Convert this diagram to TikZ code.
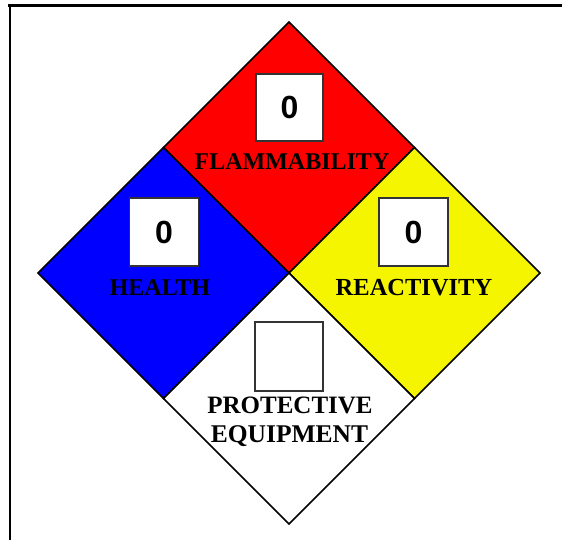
\documentclass[tikz,border=0pt]{standalone}
\usepackage{fontspec}
\setmainfont{Liberation Serif}
\newfontfamily\numfont{Liberation Sans}
\begin{document}
\begin{tikzpicture}[x=1pt,y=-1pt,
  quad/.style={draw=black,line width=1.6pt,line join=miter},
  numbox/.style={draw=black!80,line width=1.4pt,fill=white,minimum width=67pt,minimum height=67pt,inner sep=0pt,
    font=\numfont\fontsize{32}{32}\selectfont\bfseries},
  lbl/.style={font=\fontsize{24}{24}\selectfont\bfseries,inner sep=0pt,text=black}]
\useasboundingbox (0,0) rectangle (562,540);
\definecolor{nfpared}{RGB}{255,0,0}
\definecolor{nfpablue}{RGB}{0,0,255}
\definecolor{nfpayellow}{RGB}{245,245,0}
% frame lines
\coordinate (tl) at (8,5.5);
\coordinate (tr) at (562,5.5);
\coordinate (lt) at (10,7);
\coordinate (lb) at (10,540);
\draw[line width=3.5pt] (tl) -- (tr);
\draw[line width=2.5pt] (lt) -- (lb);
% diamond vertices
\coordinate (T) at (289,22);
\coordinate (L) at (38,273);
\coordinate (R) at (540,273);
\coordinate (B) at (289,524);
\coordinate (C) at (289,273);
\coordinate (TL) at (163.5,147.5);
\coordinate (TR) at (414.5,147.5);
\coordinate (BL) at (163.5,398.5);
\coordinate (BR) at (414.5,398.5);
% quadrants
\filldraw[quad,fill=nfpared] (T) -- (TR) -- (C) -- (TL) -- cycle;
\filldraw[quad,fill=nfpablue] (TL) -- (C) -- (BL) -- (L) -- cycle;
\filldraw[quad,fill=nfpayellow] (TR) -- (R) -- (BR) -- (C) -- cycle;
\filldraw[quad,fill=white] (C) -- (BR) -- (B) -- (BL) -- cycle;
% number boxes
\node[numbox] (fbox) at (289.5,107.5) {0};
\node[numbox,minimum width=69pt,minimum height=68pt] (hbox) at (164,232) {0};
\node[numbox,minimum width=69pt,minimum height=68pt] (rbox) at (413.5,232) {0};
\node[numbox,minimum width=68pt,minimum height=69pt] (pbox) at (289,356.5) {};
% labels
\node[lbl] (flab) at (292,162) {FLAMMABILITY};
\node[lbl] (hlab) at (160,288) {HEALTH};
\node[lbl,font=\fontsize{24.5}{24.5}\selectfont\bfseries] (rlab) at (414,288) {REACTIVITY};
\node[lbl,font=\fontsize{25}{25}\selectfont\bfseries] (plab) at (290,405) {PROTECTIVE};
\node[lbl,font=\fontsize{25.5}{25.5}\selectfont\bfseries] (elab) at (289.5,436) {EQUIPMENT};
\end{tikzpicture}
\end{document}
